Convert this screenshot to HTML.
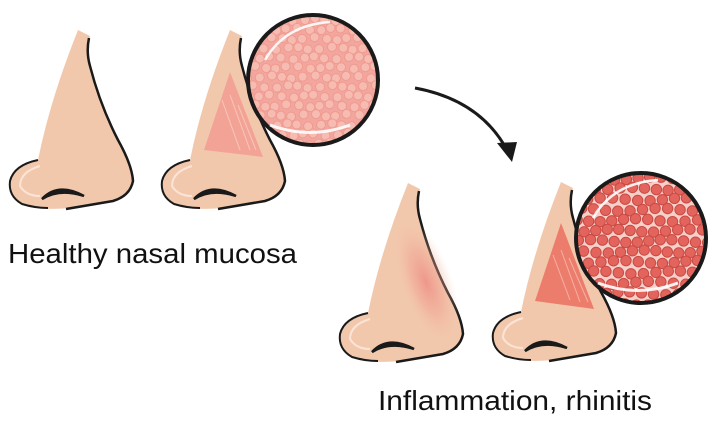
<!DOCTYPE html>
<html><head><meta charset="utf-8"><style>
html,body{margin:0;padding:0;background:#fff;width:716px;height:430px;overflow:hidden}
svg{display:block}
text{font-family:"Liberation Sans",sans-serif;fill:#111}
</style></head><body>
<svg id="s" width="716" height="430" viewBox="0 0 716 430" xmlns="http://www.w3.org/2000/svg">
<defs>
<g id="nose">
<path d="M78,30 L90,36 Q86,50 90,64 Q100,105 118,140 Q132,165 133,181 Q130,196 113,201 Q90,205 70,208 Q40,211 22,204 Q8,196 10,181 Q14,165 38,160 Q50,100 78,30 Z" fill="#f2c8ad"/>
<path d="M89,38 Q86,52 90,66 Q100,105 118,140 Q132,165 133,181 Q130,196 113,201 Q90,205 66,209" fill="none" stroke="#1a1a1a" stroke-width="2.5"/>
<path d="M38,160 Q14,165 10,181 Q8,196 22,204 Q35,208 48,208" fill="none" stroke="#1a1a1a" stroke-width="2"/>
<path d="M40,166 Q20,172 20,186 Q26,196 40,196" fill="none" stroke="#fbe4d6" stroke-width="2"/>
<path d="M42,199 Q58,182 84,196 Q60,188 42,199 Z" fill="#1a1a1a" stroke="#1a1a1a" stroke-width="2.5"/>
</g>
<radialGradient id="infl" cx="0.5" cy="0.5" r="0.5"><stop offset="0" stop-color="#ee8a80" stop-opacity=".8"/><stop offset="0.5" stop-color="#f0a090" stop-opacity=".45"/><stop offset="1" stop-color="#f2c8ad" stop-opacity="0"/></radialGradient>
<clipPath id="c1"><circle cx="313" cy="80" r="64"/></clipPath>
<clipPath id="c2"><circle cx="641" cy="238" r="64"/></clipPath>
</defs>
<use href="#nose"/>
<use href="#nose" x="152"/>
<polygon points="230,72 263,157 204,150" fill="#f2a396"/>
<g stroke="#f8c6bb" stroke-width="1"><line x1="222" y1="100" x2="240" y2="150"/><line x1="230" y1="95" x2="250" y2="150"/><line x1="238" y1="105" x2="256" y2="150"/></g>
<use href="#nose" x="330" y="153"/>
<ellipse cx="426" cy="282" rx="26" ry="68" fill="url(#infl)" transform="rotate(-20 426 282)"/>
<use href="#nose" x="483" y="152"/>
<polygon points="561,223 594,309 535,301" fill="#ec7d6c"/>
<g stroke="#f6b0a4" stroke-width="1"><line x1="553" y1="255" x2="570" y2="300"/><line x1="561" y1="250" x2="580" y2="302"/><line x1="569" y1="258" x2="588" y2="302"/></g>
<g clip-path="url(#c1)"><rect x="240" y="10" width="150" height="150" fill="#f2a69d"/><g id="p1"></g></g>
<circle cx="313" cy="80" r="65" fill="none" stroke="#1a1a1a" stroke-width="4"/>
<path d="M265,60 Q285,25 330,22" fill="none" stroke="#fff" stroke-width="2.5" opacity=".9"/>
<path d="M270,125 Q310,140 350,125" fill="none" stroke="#fff" stroke-width="3" opacity=".9"/>
<g clip-path="url(#c2)"><rect x="570" y="168" width="150" height="150" fill="#f6d0c8"/><g id="p2"></g></g>
<circle cx="641" cy="238" r="65" fill="none" stroke="#1a1a1a" stroke-width="4"/>
<path d="M593,218 Q613,183 658,180" fill="none" stroke="#fff" stroke-width="2.5" opacity=".9"/>
<path d="M598,283 Q638,298 678,283" fill="none" stroke="#fff" stroke-width="3" opacity=".9"/>
<path d="M415,88 Q480,100 507,150" fill="none" stroke="#1a1a1a" stroke-width="3"/>
<polygon points="512,162 497,143 517,142" fill="#1a1a1a"/>
<text x="8" y="263" font-size="28" textLength="289" lengthAdjust="spacingAndGlyphs">Healthy nasal mucosa</text>
<text x="378" y="410" font-size="28" textLength="274" lengthAdjust="spacingAndGlyphs">Inflammation, rhinitis</text>
</svg>
<script>
var ns="http://www.w3.org/2000/svg";
function fill(id,cx,cy,step,r,f,st){var g=document.getElementById(id);var row=0;
for(var y=cy-70;y<cy+70;y+=step*0.87,row++){for(var x=cx-70+(row%2?step/2:0);x<cx+70;x+=step){
var c=document.createElementNS(ns,"circle");var jx=(Math.sin(x*7.3+y*3.1))*1.5,jy=(Math.cos(x*2.7+y*5.9))*1.5;
c.setAttribute("cx",x+jx);c.setAttribute("cy",y+jy);c.setAttribute("r",r);c.setAttribute("fill",f);c.setAttribute("stroke",st);c.setAttribute("stroke-width","1");g.appendChild(c);}}}
fill("p1",313,80,11,4.5,"#f6bcb2","#f09a90");
fill("p2",641,238,12,5.2,"#e3645c","#c94a44");
</script>
</body></html>
